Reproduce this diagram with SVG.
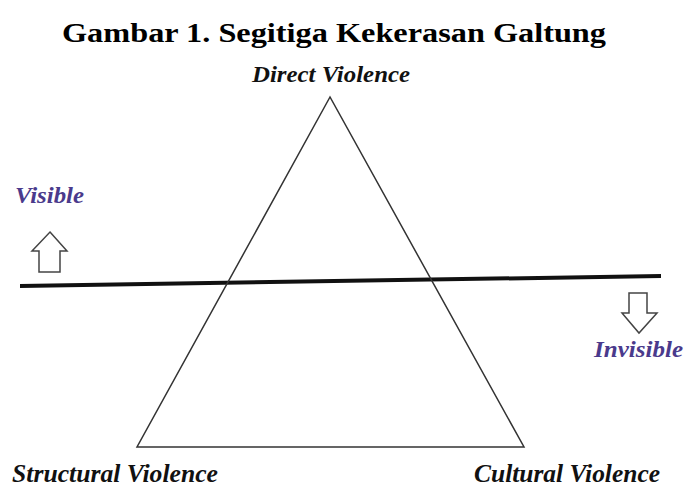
<svg xmlns="http://www.w3.org/2000/svg" width="684" height="488" viewBox="0 0 684 488">
<style>
.lbl{font-family:"Liberation Serif","Times New Roman",serif;font-weight:bold;font-style:italic;font-size:23px;fill:#111}
.big{font-size:25px}
.vis{fill:#4a3a8c}
.arr{fill:#fff;stroke:#444;stroke-width:1.5}
</style>
<rect width="684" height="488" fill="#fff"/>
<text x="334" y="42" text-anchor="middle" style="font-family:'Liberation Serif','Times New Roman',serif;font-weight:bold;font-size:28px" fill="#000" textLength="544" lengthAdjust="spacingAndGlyphs">Gambar 1. Segitiga Kekerasan Galtung</text>
<g id="connectors">
<line x1="20" y1="286" x2="661" y2="276" stroke="#111" stroke-width="4"/>
</g>
<g id="triangle">
<polygon points="330,97 137,447 524,447" fill="none" stroke="#333" stroke-width="1.5"/>
</g>
<g id="direct"><text class="lbl" x="252" y="82" textLength="158" lengthAdjust="spacingAndGlyphs">Direct Violence</text></g>
<g id="structural"><text class="lbl big" x="12" y="482" textLength="206" lengthAdjust="spacingAndGlyphs">Structural Violence</text></g>
<g id="cultural"><text class="lbl big" x="474" y="482" textLength="186" lengthAdjust="spacingAndGlyphs">Cultural Violence</text></g>
<g id="visible">
<text class="lbl vis" x="15" y="203" textLength="69" lengthAdjust="spacingAndGlyphs">Visible</text>
<polygon class="arr" points="50,232 67,251 60,251 60,272 39,272 39,251 32,251"/>
</g>
<g id="invisible">
<text class="lbl vis" x="594" y="357" textLength="89" lengthAdjust="spacingAndGlyphs">Invisible</text>
<polygon class="arr" points="629,293 647,293 647,313 657,313 639,333 622,313 629,313"/>
</g>
</svg>
